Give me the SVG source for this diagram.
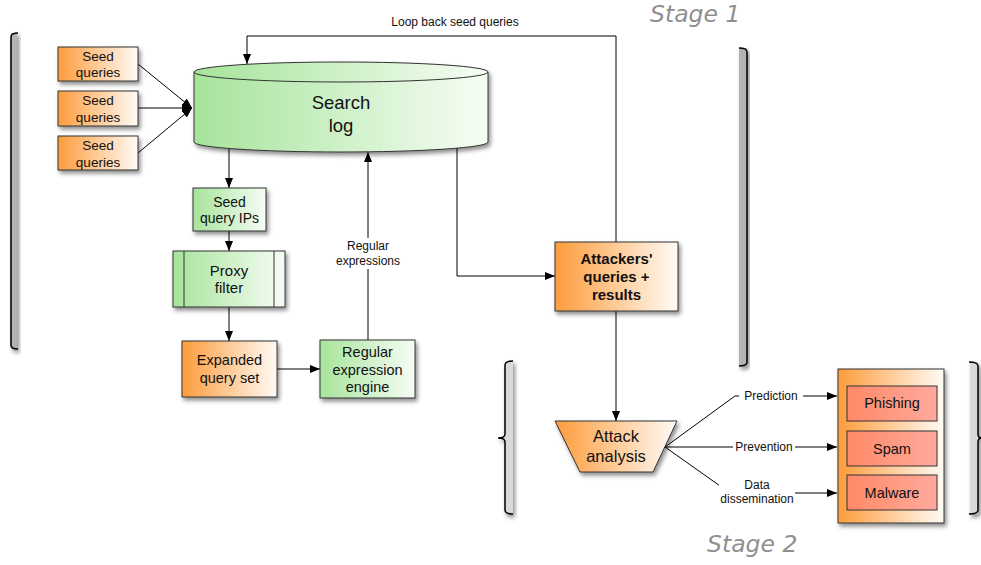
<svg xmlns="http://www.w3.org/2000/svg" width="981" height="565" viewBox="0 0 981 565">
<defs>
  <linearGradient id="gOrange" x1="0" y1="0" x2="1" y2="0">
    <stop offset="0" stop-color="#FD9C3C"/>
    <stop offset="1" stop-color="#FFFBF6"/>
  </linearGradient>
  <linearGradient id="gGreen" x1="0" y1="0" x2="1" y2="0">
    <stop offset="0" stop-color="#A6E49B"/>
    <stop offset="1" stop-color="#F7FDF5"/>
  </linearGradient>
  <linearGradient id="gSalmon" x1="0" y1="0" x2="1" y2="0">
    <stop offset="0" stop-color="#FF8A68"/>
    <stop offset="1" stop-color="#FFA99C"/>
  </linearGradient>
  <filter id="shadow" x="-20%" y="-20%" width="150%" height="150%">
    <feDropShadow dx="2" dy="3" stdDeviation="2" flood-color="#000" flood-opacity="0.45"/>
  </filter>
  <marker id="arrow" viewBox="0 0 10 8" refX="10" refY="4" markerWidth="10" markerHeight="8" markerUnits="userSpaceOnUse" orient="auto">
    <path d="M0,0 L10,4 L0,8 Z" fill="#000"/>
  </marker>
  <style>
    .box { stroke: #333; stroke-width: 1; filter: url(#shadow); }
    .orange { fill: url(#gOrange); }
    .green { fill: url(#gGreen); }
    .salmon { fill: url(#gSalmon); stroke: #333; stroke-width: 1; }
    .t { font-family: "Liberation Sans", Arial, sans-serif; fill: #111; text-anchor: middle; }
    .lbl { font-family: "Liberation Sans", Arial, sans-serif; font-size: 12px; fill: #111; text-anchor: middle; }
    .conn { fill: none; stroke: #000; stroke-width: 1; }
    .arr { marker-end: url(#arrow); }
    .stage { font-family: "DejaVu Sans", sans-serif; font-style: italic; font-size: 23.5px; fill: #8f8f8f; }
    .brk { fill: none; stroke: #000; stroke-width: 1.5; }
  </style>
</defs>
<rect width="981" height="565" fill="#fff"/>

<!-- Brackets -->
<g id="bracket-stage1-left" filter="url(#shadow)">
  <rect x="11" y="33" width="6" height="316" fill="#b3b3b3"/>
  <path class="brk" d="M18,33 Q11,33 11,37 V345 Q11,349 18,349"/>
</g>
<g id="bracket-stage1-right" filter="url(#shadow)">
  <rect x="739" y="48" width="8" height="318" fill="#b3b3b3"/>
  <path class="brk" d="M739,48 Q747,48 747,52 V362 Q747,366 739,366"/>
</g>
<g id="bracket-stage2-left" filter="url(#shadow)">
  <rect x="505" y="362" width="8" height="152" fill="#d9d9d9"/>
  <path class="brk" d="M513,361 Q505,361 505,365 V434 Q505,438 498,438 Q505,438 505,442 V510 Q505,514 513,514"/>
</g>
<g id="bracket-stage2-right" filter="url(#shadow)">
  <rect x="970" y="362" width="8" height="152" fill="#d9d9d9"/>
  <path class="brk" d="M969,362 Q978,362 978,366 V434 Q978,438 982,438 Q978,438 978,442 V510 Q978,514 969,514"/>
</g>

<text class="stage" x="650" y="22">Stage 1</text>
<text class="stage" x="707" y="552">Stage 2</text>

<!-- Connectors -->
<g id="connectors">
  <line class="conn arr" x1="138" y1="64" x2="192" y2="108"/>
  <line class="conn arr" x1="138" y1="108" x2="192" y2="108"/>
  <line class="conn arr" x1="138" y1="153" x2="192" y2="108"/>
  <line class="conn arr" x1="229" y1="148" x2="229" y2="188"/>
  <line class="conn arr" x1="229" y1="231" x2="229" y2="251"/>
  <line class="conn arr" x1="229" y1="307" x2="229" y2="341"/>
  <line class="conn arr" x1="277" y1="369" x2="320" y2="369"/>
  <line class="conn arr" x1="368" y1="340" x2="368" y2="152"/>
  <polyline class="conn arr" points="457,148 457,276 555,276"/>
  <polyline class="conn arr" points="616,242 616,36 247,36 247,64"/>
  <line class="conn arr" x1="616" y1="311" x2="616" y2="421"/>
  <polyline class="conn arr" points="665,447 735,396 837,396"/>
  <line class="conn arr" x1="665" y1="447" x2="837" y2="447"/>
  <polyline class="conn arr" points="665,447 730,493 837,493"/>
  <!-- labels -->
  <text class="lbl" x="455" y="26">Loop back seed queries</text>
  <rect x="334" y="238" width="68" height="31" fill="#fff"/>
  <text class="lbl" x="368" y="250">Regular</text>
  <text class="lbl" x="368" y="265">expressions</text>
  <rect x="739" y="389" width="64" height="15" fill="#fff"/>
  <text class="lbl" x="771" y="400">Prediction</text>
  <rect x="733" y="440" width="62" height="15" fill="#fff"/>
  <text class="lbl" x="764" y="451">Prevention</text>
  <rect x="719" y="476" width="76" height="31" fill="#fff"/>
  <text class="lbl" x="757" y="489">Data</text>
  <text class="lbl" x="757" y="503">dissemination</text>
</g>

<!-- Nodes -->
<g id="seed1">
  <rect class="box orange" x="58" y="47" width="80" height="34"/>
  <text class="t" font-size="13.5" x="98" y="61">Seed</text>
  <text class="t" font-size="13.5" x="98" y="77">queries</text>
</g>
<g id="seed2">
  <rect class="box orange" x="58" y="91" width="80" height="35"/>
  <text class="t" font-size="13.5" x="98" y="105">Seed</text>
  <text class="t" font-size="13.5" x="98" y="122">queries</text>
</g>
<g id="seed3">
  <rect class="box orange" x="58" y="136" width="80" height="34"/>
  <text class="t" font-size="13.5" x="98" y="150">Seed</text>
  <text class="t" font-size="13.5" x="98" y="167">queries</text>
</g>

<g id="search-log">
  <path class="box green" d="M194,72 A147,10 0 0 1 488,72 V142 A147,10 0 0 1 194,142 Z"/>
  <path d="M194,72 A147,10 0 0 0 488,72" fill="none" stroke="#333" stroke-width="1"/>
  <text class="t" font-size="18.5" x="341" y="108.5">Search</text>
  <text class="t" font-size="18.5" x="341" y="131.5">log</text>
</g>

<g id="seed-query-ips">
  <rect class="box green" x="193" y="188" width="73" height="43"/>
  <text class="t" font-size="14" x="229.5" y="207">Seed</text>
  <text class="t" font-size="14" x="229.5" y="223">query IPs</text>
</g>

<g id="proxy-filter">
  <rect class="box green" x="173" y="251" width="112" height="56"/>
  <line x1="184" y1="251" x2="184" y2="307" stroke="#333" stroke-width="1"/>
  <line x1="274" y1="251" x2="274" y2="307" stroke="#333" stroke-width="1"/>
  <text class="t" font-size="15" x="229" y="276">Proxy</text>
  <text class="t" font-size="15" x="229" y="293">filter</text>
</g>

<g id="expanded-query-set">
  <rect class="box orange" x="182" y="341" width="95" height="56"/>
  <text class="t" font-size="14.5" x="229.5" y="365">Expanded</text>
  <text class="t" font-size="14.5" x="229.5" y="383">query set</text>
</g>

<g id="regex-engine">
  <rect class="box green" x="320" y="340" width="95" height="58"/>
  <text class="t" font-size="14.5" x="367.5" y="357">Regular</text>
  <text class="t" font-size="14.5" x="367.5" y="374.5">expression</text>
  <text class="t" font-size="14.5" x="367.5" y="392">engine</text>
</g>

<g id="attackers-queries">
  <rect class="box orange" x="555" y="242" width="123" height="69"/>
  <text class="t" font-size="15" font-weight="bold" x="616.5" y="264">Attackers'</text>
  <text class="t" font-size="15" font-weight="bold" x="616.5" y="282">queries +</text>
  <text class="t" font-size="15" font-weight="bold" x="616.5" y="300">results</text>
</g>

<g id="attack-analysis">
  <polygon class="box orange" points="555,421 677,421 653,472 580,472"/>
  <text class="t" font-size="16.5" x="616" y="442">Attack</text>
  <text class="t" font-size="16.5" x="616" y="462">analysis</text>
</g>

<g id="outcomes">
  <rect class="box orange" x="838" y="369" width="106" height="154"/>
  <g id="phishing">
    <rect class="salmon" x="847" y="386" width="90" height="35"/>
    <text class="t" font-size="14.5" x="892" y="408">Phishing</text>
  </g>
  <g id="spam">
    <rect class="salmon" x="847" y="431" width="90" height="35"/>
    <text class="t" font-size="14.5" x="892" y="454">Spam</text>
  </g>
  <g id="malware">
    <rect class="salmon" x="847" y="475" width="90" height="35"/>
    <text class="t" font-size="14.5" x="892" y="498">Malware</text>
  </g>
</g>
</svg>
